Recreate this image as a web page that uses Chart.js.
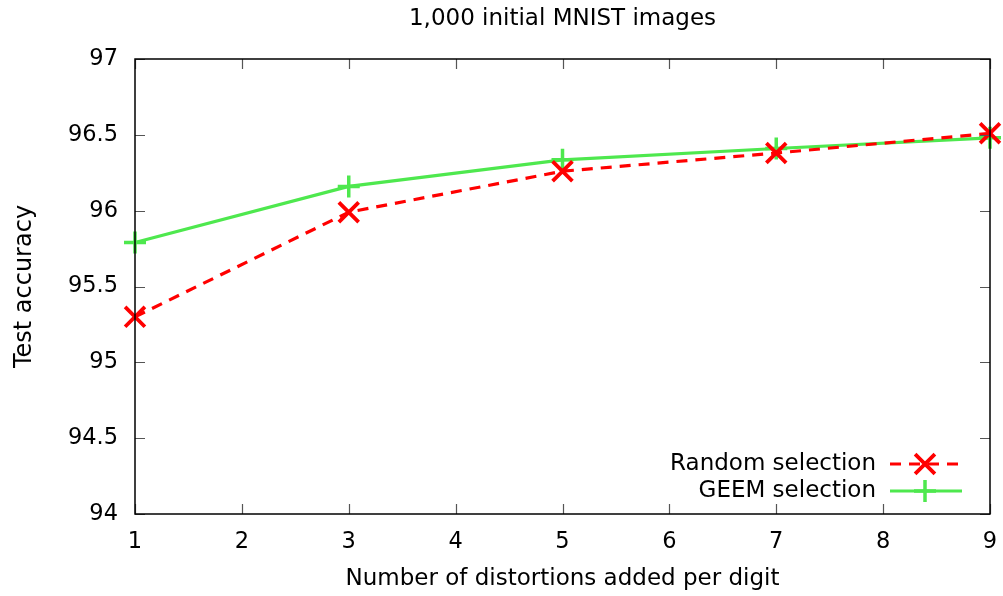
<!DOCTYPE html>
<html><head><meta charset="utf-8">
<script src="https://cdn.jsdelivr.net/npm/chart.js@4/dist/chart.umd.min.js"></script>
<style>html,body{margin:0;padding:0;background:#fff}#wrap{width:1003px;height:596px}</style>
</head><body><div id="wrap"><canvas id="c" width="1003" height="596"></canvas></div>
<script>
const xValues = [1, 3, 5, 7, 9];
const randomSel = [95.30, 95.99, 96.26, 96.38, 96.51];
const geemSel = [95.79, 96.16, 96.335, 96.41, 96.48];
const xTicks = [1, 2, 3, 4, 5, 6, 7, 8, 9];
const yTicks = [94, 94.5, 95, 95.5, 96, 96.5, 97];
const seriesNames = ['Random selection', 'GEEM selection'];
const titleText = '1,000 initial MNIST images';
const xTitle = 'Number of distortions added per digit';
const yTitle = 'Test accuracy';

const FONT = 'DejaVu Sans';
const FS = 23;
const TFS = 22.5;
const RED = '#ff0000';
const GREEN = '#4ee84e';
const PLOT = {left: 135, right: 990, top: 59, bottom: 514};

const innerTicks = {
  id: 'innerTicks',
  afterDatasetsDraw(chart) {
    const {ctx, chartArea: a, scales: {x, y}} = chart;
    ctx.save();
    ctx.strokeStyle = '#555';
    ctx.lineWidth = 1.2;
    const L = 10;
    xTicks.forEach(v => {
      const px = Math.round(x.getPixelForValue(v)) + 0.5;
      ctx.beginPath();
      ctx.moveTo(px, a.bottom); ctx.lineTo(px, a.bottom - L);
      ctx.moveTo(px, a.top); ctx.lineTo(px, a.top + L);
      ctx.stroke();
    });
    yTicks.forEach(v => {
      const py = Math.round(y.getPixelForValue(v)) + 0.5;
      ctx.beginPath();
      ctx.moveTo(a.left, py); ctx.lineTo(a.left + L, py);
      ctx.moveTo(a.right, py); ctx.lineTo(a.right - L, py);
      ctx.stroke();
    });
    ctx.strokeStyle = '#000';
    ctx.lineWidth = 1.5;
    ctx.strokeRect(a.left, a.top, a.right - a.left, a.bottom - a.top);
    ctx.restore();
  }
};

const plotTitle = {
  id: 'plotTitle',
  afterDraw(chart) {
    const {ctx, chartArea: a} = chart;
    ctx.save();
    ctx.font = FS + 'px "' + FONT + '"';
    ctx.textAlign = 'center';
    ctx.textBaseline = 'middle';
    ctx.fillStyle = '#000';
    ctx.fillText(titleText, (a.left + a.right) / 2, 19);
    ctx.restore();
  }
};

const gnuLegend = {
  id: 'gnuLegend',
  afterDraw(chart) {
    const {ctx} = chart;
    ctx.save();
    ctx.font = FS + 'px "' + FONT + '"';
    ctx.textAlign = 'right';
    ctx.textBaseline = 'middle';
    ctx.fillStyle = '#000';
    const rows = [464, 491];
    chart.data.datasets.forEach((ds, i) => {
      const yy = rows[i];
      ctx.fillText(seriesNames[i], 876, yy);
      ctx.strokeStyle = ds.borderColor;
      ctx.lineWidth = ds.borderWidth;
      ctx.setLineDash(ds.borderDash || []);
      ctx.beginPath(); ctx.moveTo(890, yy); ctx.lineTo(962, yy); ctx.stroke();
      ctx.setLineDash([]);
      ctx.lineWidth = ds.pointBorderWidth;
      const r = ds.pointRadius;
      ctx.beginPath();
      if (ds.pointStyle === 'crossRot') {
        const d = r * Math.SQRT1_2;
        ctx.moveTo(925 - d, yy - d); ctx.lineTo(925 + d, yy + d);
        ctx.moveTo(925 + d, yy - d); ctx.lineTo(925 - d, yy + d);
      } else {
        ctx.moveTo(925 - r, yy); ctx.lineTo(925 + r, yy);
        ctx.moveTo(925, yy - r); ctx.lineTo(925, yy + r);
      }
      ctx.stroke();
    });
    ctx.restore();
  }
};

new Chart(document.getElementById('c'), {
  type: 'line',
  data: {
    datasets: [
      {
        label: seriesNames[0],
        data: xValues.map((v, i) => ({x: v, y: randomSel[i]})),
        borderColor: RED, backgroundColor: RED,
        borderWidth: 3.2, borderDash: [11, 8],
        pointStyle: 'crossRot', pointRadius: 14, pointBorderWidth: 3.8,
        pointBorderColor: RED, fill: false, tension: 0, clip: false
      },
      {
        label: seriesNames[1],
        data: xValues.map((v, i) => ({x: v, y: geemSel[i]})),
        borderColor: GREEN, backgroundColor: GREEN,
        borderWidth: 3.2,
        pointStyle: 'cross', pointRadius: 11, pointBorderWidth: 3.5,
        pointBorderColor: GREEN, fill: false, tension: 0, clip: false
      }
    ]
  },
  options: {
    responsive: false,
    animation: false,
    layout: {autoPadding: false, padding: {left: 0, right: 1003 - PLOT.right, top: PLOT.top, bottom: 0}},
    plugins: {
      legend: {display: false},
      tooltip: {enabled: false},
      title: {display: false}
    },
    scales: {
      x: {
        type: 'linear', min: 1, max: 9,
        afterBuildTicks(s) { s.ticks = xTicks.map(v => ({value: v})); },
        afterFit(s) { s.height = 596 - PLOT.bottom; s.paddingRight = 0; s.paddingLeft = 0; },
        grid: {display: false, drawTicks: false},
        border: {display: false},
        ticks: {color: '#000', font: {family: FONT, size: TFS}, padding: 15, maxRotation: 0,
                callback: v => String(v)},
        title: {display: true, text: xTitle, color: '#000',
                font: {family: FONT, size: FS}, padding: {top: 0, bottom: 3}}
      },
      y: {
        type: 'linear', min: 94, max: 97,
        afterBuildTicks(s) { s.ticks = yTicks.map(v => ({value: v})); },
        afterFit(s) { s.width = PLOT.left; s.paddingTop = 0; s.paddingBottom = 0; },
        grid: {display: false, drawTicks: false},
        border: {display: false},
        ticks: {color: '#000', font: {family: FONT, size: TFS}, padding: 17,
                callback: v => String(v)},
        title: {display: true, text: yTitle, color: '#000',
                font: {family: FONT, size: 24}, padding: {top: 10, bottom: 0}}
      }
    }
  },
  plugins: [innerTicks, plotTitle, gnuLegend]
});
</script>
</body></html>
